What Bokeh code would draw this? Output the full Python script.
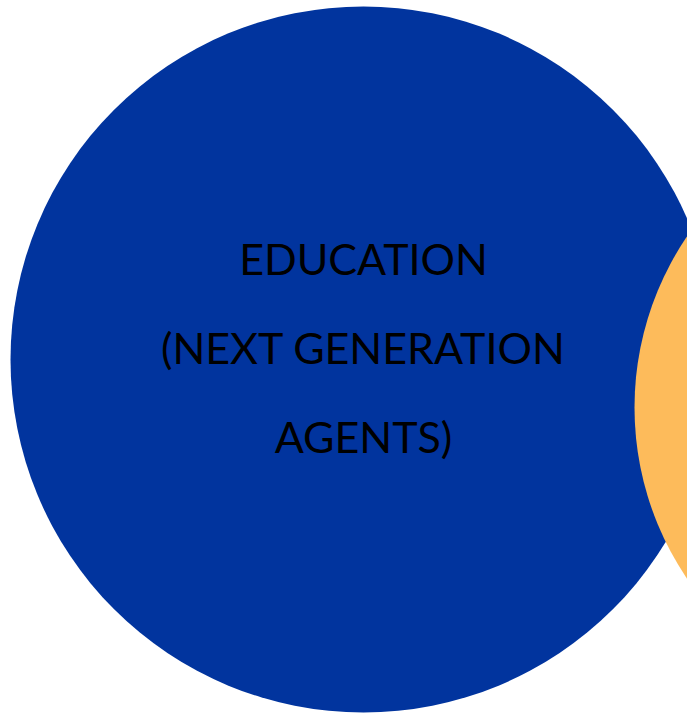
from bokeh.plotting import figure
from bokeh.models import Range1d
from bokeh.core.properties import value
from bokeh.embed import file_html
from bokeh.resources import INLINE

# circles (screen-pixel coordinates of the reference)
circle_names = ["EDUCATION", "OTHER"]
circle_x = [363, 939]
circle_y = [359, 407]
circle_r = [353, 305]
circle_colors = ["#01349E", "#FDBB5B"]

label_lines = ["EDUCATION", "(NEXT GENERATION", "AGENTS)"]
label_x = [363, 363, 363]
label_y = [277, 366, 455]

W, H = 687, 714
BASELINE_FIX = 19
p = figure(width=W, height=H, output_backend="svg", toolbar_location=None,
           x_range=Range1d(0, W), y_range=Range1d(714 - H, 714),
           min_border=0, outline_line_color=None)
p.axis.visible = False
p.grid.visible = False
p.background_fill_color = "white"
p.border_fill_color = "white"

p.circle(x=circle_x, y=[714 - v for v in circle_y], radius=circle_r,
         fill_color=circle_colors, line_color=None)

p.text(x=label_x, y=[714 - v + BASELINE_FIX for v in label_y], text=label_lines,
       text_align="center", text_baseline="alphabetic",
       text_font=value("Lato"), text_font_size="43px", text_color="black")

open("out.html", "w").write(file_html(p, INLINE))
